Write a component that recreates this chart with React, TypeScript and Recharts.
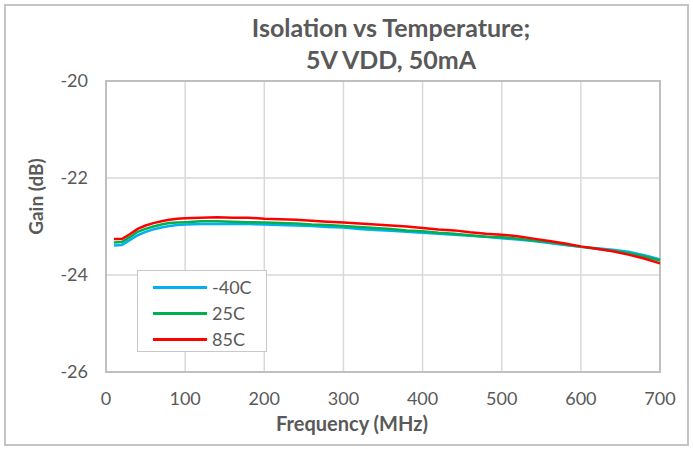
import React from 'react';
import { LineChart, Line, XAxis, YAxis, CartesianGrid, Label, ReferenceArea } from 'recharts';

const freqs = [10, 20, 30, 40, 50, 60, 70, 80, 90, 100, 120, 140, 160, 180, 200, 220, 240, 260, 280, 300, 320, 340, 360, 380, 400, 420, 440, 460, 480, 500, 520, 540, 560, 580, 600, 620, 640, 660, 680, 700];

const coldGain = [-23.39, -23.38, -23.28, -23.18, -23.11, -23.06, -23.02, -22.99, -22.97, -22.96, -22.95, -22.95, -22.95, -22.95, -22.96, -22.97, -22.98, -22.99, -23.01, -23.02, -23.05, -23.07, -23.09, -23.11, -23.13, -23.15, -23.17, -23.19, -23.21, -23.24, -23.27, -23.3, -23.34, -23.38, -23.42, -23.45, -23.48, -23.52, -23.59, -23.68];
const roomGain = [-23.33, -23.32, -23.22, -23.11, -23.05, -23.0, -22.96, -22.93, -22.92, -22.91, -22.89, -22.89, -22.9, -22.91, -22.92, -22.93, -22.94, -22.96, -22.97, -22.99, -23.01, -23.03, -23.05, -23.08, -23.1, -23.13, -23.15, -23.18, -23.21, -23.22, -23.25, -23.29, -23.32, -23.37, -23.42, -23.46, -23.5, -23.55, -23.62, -23.7];
const hotGain = [-23.26, -23.26, -23.16, -23.05, -22.98, -22.93, -22.89, -22.86, -22.84, -22.83, -22.82, -22.81, -22.82, -22.82, -22.84, -22.85, -22.86, -22.88, -22.9, -22.92, -22.94, -22.96, -22.98, -23.0, -23.03, -23.06, -23.08, -23.12, -23.15, -23.17, -23.2, -23.25, -23.3, -23.35, -23.41, -23.46, -23.51, -23.58, -23.66, -23.76];

const xTicks = [0, 100, 200, 300, 400, 500, 600, 700];
const yTicks = [-26, -24, -22, -20];

const series = [
  { key: 'm40', name: '-40C', values: coldGain, color: '#00B0F0' },
  { key: 'p25', name: '25C', values: roomGain, color: '#00B050' },
  { key: 'p85', name: '85C', values: hotGain, color: '#FF0000' },
];

const data = freqs.map((f, i) => {
  const row: Record<string, number> = { freq: f };
  series.forEach((s) => { row[s.key] = s.values[i]; });
  return row;
});

const FONT = 'Lato, "Open Sans", sans-serif';
const GREY = '#595959';

// legend is drawn as an overlay so it doesn't eat plot space
const LegendBox = () => (
  <div style={{ position: 'absolute', left: 137, top: 270, border: '1px solid #c8c8c8', background: '#fff', width: 130, height: 82, boxSizing: 'border-box', paddingTop: 3 }}>
    {series.map((s) => (
      <div key={s.key} style={{ display: 'flex', alignItems: 'center', height: 26 }}>
        <div style={{ width: 54, height: 3, background: s.color, marginLeft: 15, marginRight: 5 }} />
        <span style={{ fontFamily: FONT, fontSize: 18, color: GREY }}>{s.name}</span>
      </div>
    ))}
  </div>
);

export default function App() {
  return (
    <div style={{ position: 'absolute', left: 0, top: 0, width: 693, height: 449, background: '#fff' }}>
      <div style={{ position: 'absolute', left: 4, top: 4, width: 685, height: 442, border: '2px solid #c4c4c4', boxSizing: 'border-box' }} />
      <div style={{ position: 'absolute', left: 191, width: 400, top: 11, textAlign: 'center', fontFamily: FONT, fontWeight: 'bold', fontSize: 25, color: GREY, lineHeight: '32px' }}>
        <div>Isolation vs Temperature;</div>
        <div>5V VDD, 50mA</div>
      </div>
      <div style={{ position: 'absolute', left: 0, top: 0 }}>
        <LineChart width={693} height={449} data={data} margin={{ top: 81, right: 33, bottom: 47, left: 0 }}>
          <CartesianGrid stroke="#d9d9d9" strokeWidth={1.5} />
          <ReferenceArea x1={0} x2={700} y1={-26} y2={-20} fill="none" stroke="#bfbfbf" strokeWidth={2} />
          <XAxis
            dataKey="freq"
            type="number"
            domain={[0, 700]}
            ticks={xTicks}
            height={30}
            tickLine={false}
            axisLine={false}
            tickSize={0}
            tickMargin={20}
            tick={{ fill: GREY, fontSize: 18, fontFamily: FONT }}
            interval={0}
          >
            <Label value="Frequency (MHz)" position="insideBottom" offset={-29} dx={-31} fill={GREY} fontSize={20} fontWeight="bold" fontFamily={FONT} />
          </XAxis>
          <YAxis
            type="number"
            domain={[-26, -20]}
            ticks={yTicks}
            width={106}
            tickLine={false}
            axisLine={false}
            tickSize={0}
            tickMargin={18}
            tick={{ fill: GREY, fontSize: 18, fontFamily: FONT }}
            interval={0}
          >
            <Label value="Gain (dB)" angle={-90} position="insideLeft" offset={36} dy={-30} fill={GREY} fontSize={19} fontWeight="bold" fontFamily={FONT} style={{ textAnchor: 'middle' }} />
          </YAxis>
          {series.map((s) => (
            <Line key={s.key} dataKey={s.key} name={s.name} stroke={s.color} strokeWidth={2.5} dot={false} activeDot={false} type="linear" isAnimationActive={false} />
          ))}
        </LineChart>
      </div>
      <LegendBox />
    </div>
  );
}
